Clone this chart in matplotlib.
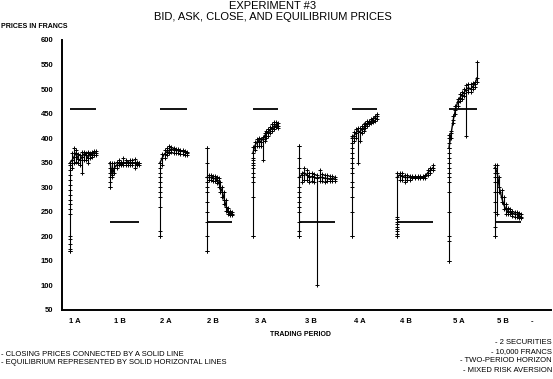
import matplotlib
matplotlib.use('Agg')
import matplotlib.pyplot as plt

plt.rcParams['font.family'] = ['Liberation Sans Narrow', 'Liberation Sans', 'DejaVu Sans']

# trading periods and the equilibrium price of each
periods = ['1 A', '1 B', '2 A', '2 B', '3 A', '3 B', '4 A', '4 B', '5 A', '5 B', '-']
equilibrium = [460, 230, 460, 230, 460, 230, 460, 230, 460, 230]

# closing prices, with the bid/ask range at each step
close_1a = [350, 355, 362, 370, 358, 355, 362, 368, 365, 360, 368, 365, 370, 370]
low_1a = [170, 340, 350, 352, 350, 345, 330, 355, 355, 350, 360, 362, 365, 365]
high_1a = [350, 370, 380, 375, 368, 365, 372, 372, 370, 372, 370, 372, 374, 374]

close_1b = [350, 325, 340, 345, 350, 348, 350, 350, 352, 350, 350, 350, 348, 350]
low_1b = [300, 320, 330, 340, 345, 345, 345, 345, 345, 345, 345, 340, 345, 345]
high_1b = [350, 350, 350, 352, 355, 352, 360, 355, 352, 355, 355, 358, 352, 350]

close_2a = [350, 360, 368, 372, 375, 378, 376, 375, 375, 374, 373, 372, 370]
low_2a = [200, 345, 360, 365, 370, 372, 370, 370, 370, 368, 368, 366, 366]
high_2a = [350, 368, 375, 380, 385, 382, 380, 378, 378, 376, 376, 374, 372]

close_2b = [320, 320, 320, 318, 318, 315, 310, 300, 290, 275, 260, 250, 248, 245]
low_2b = [170, 315, 315, 312, 312, 308, 300, 290, 280, 265, 252, 245, 243, 243]
high_2b = [380, 325, 325, 322, 322, 320, 318, 310, 300, 290, 275, 258, 252, 250]

close_3a = [370, 385, 392, 395, 393, 398, 405, 410, 412, 418, 420, 425, 428, 425]
low_3a = [200, 375, 385, 385, 385, 355, 395, 400, 405, 410, 415, 418, 422, 420]
high_3a = [383, 392, 398, 400, 398, 402, 410, 415, 418, 422, 428, 432, 432, 430]

close_3b = [320, 325, 330, 325, 320, 322, 320, 318, 320, 320, 318, 318, 317, 318, 316]
low_3b = [200, 310, 315, 315, 310, 312, 310, 100, 312, 312, 310, 312, 312, 312, 312]
high_3b = [385, 330, 340, 335, 330, 330, 328, 325, 335, 328, 325, 325, 322, 322, 320]

close_4a = [400, 405, 410, 415, 412, 418, 420, 425, 430, 432, 435, 438, 442, 445]
low_4a = [200, 395, 400, 350, 395, 410, 415, 420, 425, 428, 430, 432, 436, 440]
high_4a = [405, 412, 418, 420, 420, 425, 428, 430, 435, 436, 440, 442, 446, 450]

close_4b = [320, 325, 322, 320, 320, 320, 320, 320, 320, 320, 320, 322, 330, 335, 340]
low_4b = [200, 315, 315, 310, 315, 315, 318, 318, 318, 318, 318, 318, 325, 330, 335]
high_4b = [330, 330, 330, 325, 325, 322, 322, 322, 322, 322, 322, 325, 335, 340, 345]

close_5a = [380, 410, 438, 458, 474, 482, 488, 493, 499, 503, 500, 505, 510, 523]
low_5a = [150, 400, 430, 450, 465, 475, 480, 485, 405, 495, 495, 500, 505, 515]
high_5a = [407, 415, 445, 465, 480, 490, 495, 500, 509, 510, 510, 512, 515, 556]

close_5b = [340, 330, 300, 280, 265, 255, 250, 250, 248, 245, 245, 242, 240]
low_5b = [200, 245, 290, 270, 255, 245, 245, 245, 242, 240, 240, 238, 238]
high_5b = [345, 345, 320, 295, 280, 265, 258, 255, 252, 250, 250, 248, 245]

# quotes stacked on the opening column of each period
open_1a = [170, 175, 185, 195, 200, 245, 255, 265, 275, 285, 295, 305, 315, 325, 335, 345]
open_1b = [300, 310, 320, 330, 340]
open_2a = [200, 210, 260, 280, 290, 300, 310, 320, 330, 340]
open_2b = [170, 200, 230, 250, 270, 290, 300, 310, 320, 350, 380]
open_3a = [200, 280, 310, 320, 330, 340, 345, 350, 355, 360]
open_3b = [200, 210, 230, 250, 260, 270, 280, 290, 300, 340, 360, 385]
open_4a = [200, 250, 280, 300, 310, 330, 340, 350, 360, 370, 380, 390]
open_4b = [200, 205, 210, 215, 220, 225, 230, 235, 240]
open_5a = [150, 190, 200, 250, 290, 310, 320, 330, 340, 350, 360, 370, 380, 390, 400]
open_5b = [200, 220, 250, 270, 290, 310, 320, 330, 340]

closes = [close_1a, close_1b, close_2a, close_2b, close_3a, close_3b, close_4a, close_4b, close_5a, close_5b]
lows = [low_1a, low_1b, low_2a, low_2b, low_3a, low_3b, low_4a, low_4b, low_5a, low_5b]
highs = [high_1a, high_1b, high_2a, high_2b, high_3a, high_3b, high_4a, high_4b, high_5a, high_5b]
opens = [open_1a, open_1b, open_2a, open_2b, open_3a, open_3b, open_4a, open_4b, open_5a, open_5b]

# layout along the time axis
x_start = [8, 48, 98, 145, 191, 237, 290, 335, 387, 433]
x_width = [26, 29, 27, 25, 25, 36, 25, 36, 28, 26]
tick_x = [13, 58, 104, 151, 199, 249, 298, 344, 397, 441, 470]

fig = plt.figure(figsize=(5.53, 3.79), dpi=100)
ax = fig.add_axes([62 / 553, 69 / 379, 489 / 553, 270 / 379])

for k in range(len(closes)):
    n = len(closes[k])
    xs = [x_start[k] + x_width[k] * i / (n - 1) for i in range(n)]
    ax.vlines(xs, lows[k], highs[k], color='k', lw=0.8)
    ax.plot(xs, lows[k], '+', color='k', ms=2.5, mew=0.7)
    ax.plot(xs, highs[k], '+', color='k', ms=2.5, mew=0.7)
    ax.plot(xs, closes[k], '+-', color='k', ms=2.5, mew=0.7, lw=1.0)
    ax.plot([x_start[k]] * len(opens[k]), opens[k], '+', color='k', ms=2.5, mew=0.7)
    ax.hlines(equilibrium[k], x_start[k], x_start[k] + x_width[k], color='k', lw=1.3)

ax.set_xlim(0, 489)
ax.set_ylim(50, 600)
ax.set_yticks(range(50, 601, 50))
ax.set_xticks(tick_x)
ax.set_xticklabels(periods)
ax.tick_params(length=0, labelsize=5.5, pad=6)
for lab in ax.get_xticklabels() + ax.get_yticklabels():
    lab.set_fontweight('bold')
for s in ['top', 'right']:
    ax.spines[s].set_visible(False)
ax.spines['left'].set_linewidth(1.4)
ax.spines['bottom'].set_linewidth(1.4)

fig.text(273 / 553, 1 - 6 / 379, 'EXPERIMENT #3', ha='center', va='center',
         fontsize=8, family='Liberation Sans')
fig.text(273 / 553, 1 - 17 / 379, 'BID, ASK, CLOSE, AND EQUILIBRIUM PRICES', ha='center',
         va='center', fontsize=8, family='Liberation Sans')
fig.text(1 / 553, 1 - 26 / 379, 'PRICES IN FRANCS', ha='left', va='center',
         fontsize=5, fontweight='bold')
fig.text(300 / 553, 1 - 334 / 379, 'TRADING PERIOD', ha='center', va='center',
         fontsize=5, fontweight='bold')

left_notes = ['- CLOSING PRICES CONNECTED BY A SOLID LINE',
              '- EQUILIBRIUM REPRESENTED BY SOLID HORIZONTAL LINES']
right_notes = ['- 2 SECURITIES', '- 10,000 FRANCS', '- TWO-PERIOD HORIZON', '- MIXED RISK AVERSION']
for i, t in enumerate(left_notes):
    fig.text(1 / 553, 1 - (354 + 9 * i) / 379, t, ha='left', va='center',
             fontsize=5.5, family='Liberation Sans')
for i, t in enumerate(right_notes):
    fig.text(552 / 553, 1 - (343 + 9 * i) / 379, t, ha='right', va='center',
             fontsize=5.5, family='Liberation Sans')

fig.savefig('out.png', dpi=100)
